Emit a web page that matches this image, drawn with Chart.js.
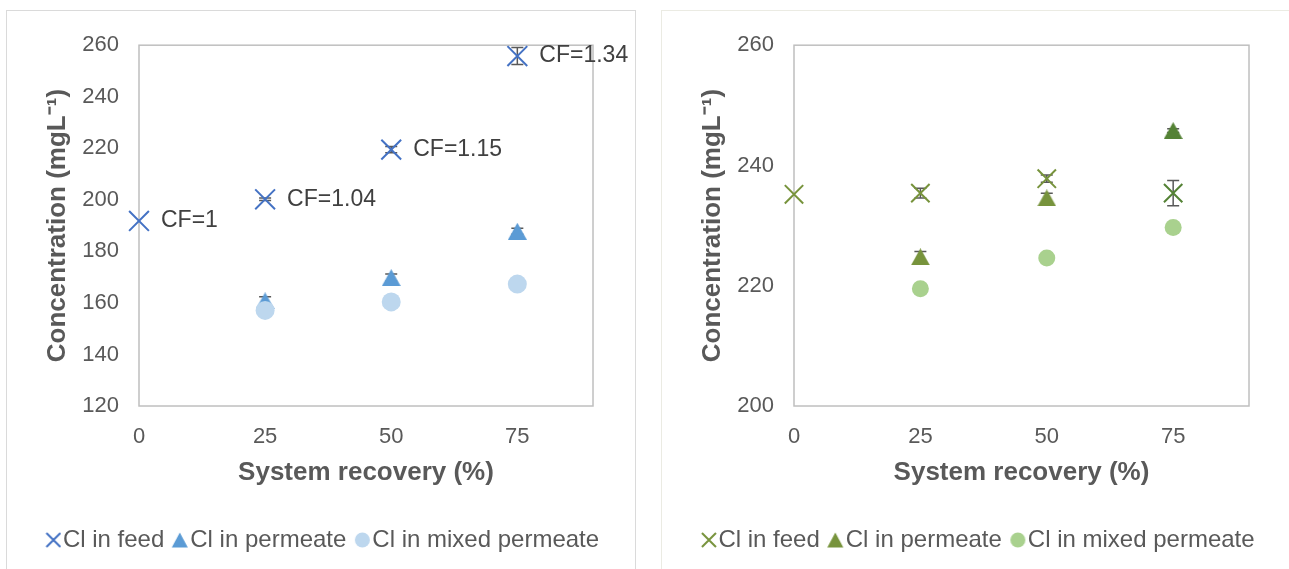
<!DOCTYPE html>
<html>
<head>
<meta charset="utf-8">
<script src="https://cdn.jsdelivr.net/npm/chart.js@4/dist/chart.umd.min.js"></script>
<style>
  html, body { margin: 0; padding: 0; background: #ffffff; }
  body { width: 1289px; height: 569px; position: relative; overflow: hidden; }
  .panel { position: absolute; box-sizing: border-box; }
  #panelLeft { left: 6px; top: 10px; width: 630px; height: 580px; border: 1.5px solid #dadada; }
  #panelRight { left: 661px; top: 10px; width: 640px; height: 580px; border: 1.5px solid #ebebe3; }
  canvas { position: absolute; }
  #chartLeft { left: 8px; top: 12px; }
  #chartRight { left: 663px; top: 12px; }
</style>
</head>
<body>
<div class="panel" id="panelLeft"></div>
<div class="panel" id="panelRight"></div>
<canvas id="chartLeft" width="625" height="557"></canvas>
<canvas id="chartRight" width="626" height="557"></canvas>
<script>
// System recovery (%) at which each sample was taken
const recoveryFeed = [0, 25, 50, 75];
const recoveryPermeate = [25, 50, 75];
const xTickValues = [0, 25, 50, 75];

// Left panel: Cl concentrations (mg/L)
const leftFeed = [191.8, 200.2, 219.5, 255.8];
const leftFeedErr = [0, 0.5, 1.2, 3.3];
const leftPermeate = [160.8, 169.8, 187.8];
const leftPermeateErr = [1.6, 1.4, 1.2];
const leftMixed = [157.1, 160.4, 167.3];
const leftMixedErr = [0.4, 0.2, 0.2];
const cfLabels = ['CF=1', 'CF=1.04', 'CF=1.15', 'CF=1.34'];
const leftYTicks = { min: 120, max: 260, step: 20 };

// Right panel: Cl concentrations (mg/L)
const rightFeed = [235.2, 235.4, 237.8, 235.4];
const rightFeedErr = [0, 0.8, 0.6, 2.1];
const rightPermeate = [224.8, 234.6, 245.8];
const rightPermeateErr = [0.9, 0.8, 0.3];
const rightMixed = [219.5, 224.6, 229.7];
const rightMixedErr = [0.2, 0.1, 0.1];
const rightYTicks = { min: 200, max: 260, step: 20 };

const seriesNames = ['Cl in feed', 'Cl in permeate', 'Cl in mixed permeate'];

const FONT = '"Liberation Sans", Arial, Helvetica, sans-serif';
const TEXT = '#595959';

function toPoints(xs, ys) { return ys.map((y, i) => ({ x: xs[i], y })); }

// Triangle marker, centred on its bounding box
function triangleImage(color, w, h) {
  const c = document.createElement('canvas');
  c.width = w; c.height = h;
  const g = c.getContext('2d');
  g.fillStyle = color;
  g.beginPath();
  g.moveTo(w / 2, 0); g.lineTo(w, h); g.lineTo(0, h); g.closePath();
  g.fill();
  return c;
}

// Legend icons sit close to their text: the glyph is drawn at the right of a wider image
function legendIcon(kind, color) {
  const W = 22, H = 18;
  const c = document.createElement('canvas');
  c.width = W; c.height = H;
  const g = c.getContext('2d');
  const right = 21, cy = H / 2;
  if (kind === 'x') {
    const s = 14, l = right - s;
    g.strokeStyle = color; g.lineWidth = 2;
    g.beginPath();
    g.moveTo(l, cy - s / 2); g.lineTo(right, cy + s / 2);
    g.moveTo(l, cy + s / 2); g.lineTo(right, cy - s / 2);
    g.stroke();
  } else if (kind === 'tri') {
    const w = 16, h = 15, l = right - w;
    g.fillStyle = color;
    g.beginPath();
    g.moveTo(l + w / 2, cy - h / 2); g.lineTo(right, cy + h / 2); g.lineTo(l, cy + h / 2); g.closePath();
    g.fill();
  } else {
    const r = 7.5;
    g.fillStyle = color;
    g.beginPath(); g.arc(right - r, cy, r, 0, Math.PI * 2); g.fill();
  }
  return c;
}

// Plot-area frame
const frame = {
  id: 'frame',
  beforeDatasetsDraw(chart) {
    const { ctx, chartArea: a } = chart;
    ctx.save();
    ctx.strokeStyle = '#BFBFBF';
    ctx.lineWidth = 1.5;
    ctx.strokeRect(a.left, a.top, a.right - a.left, a.bottom - a.top);
    ctx.restore();
  }
};

// Vertical error bars with caps, drawn just beneath their own series' markers
const errorBars = {
  id: 'errorBars',
  beforeDatasetDraw(chart, args) {
    const ds = chart.data.datasets[args.index];
    if (!ds.errorBars) return;
    const { ctx } = chart;
    const xs = chart.scales.x, ys = chart.scales.y;
    ctx.save();
    ctx.strokeStyle = '#595959';
    ctx.lineWidth = 1.5;
    ds.data.forEach((p, i) => {
      const e = ds.errorBars[i];
      if (!e) return;
      const px = xs.getPixelForValue(p.x);
      const top = ys.getPixelForValue(p.y + e);
      const bot = ys.getPixelForValue(p.y - e);
      ctx.beginPath();
      ctx.moveTo(px, top); ctx.lineTo(px, bot);
      ctx.moveTo(px - 6, top); ctx.lineTo(px + 6, top);
      ctx.moveTo(px - 6, bot); ctx.lineTo(px + 6, bot);
      ctx.stroke();
    });
    ctx.restore();
  }
};

// Concentration-factor labels next to the feed points
const pointLabels = {
  id: 'pointLabels',
  afterDatasetsDraw(chart) {
    const { ctx } = chart;
    const xs = chart.scales.x, ys = chart.scales.y;
    chart.data.datasets.forEach(ds => {
      if (!ds.pointLabels) return;
      ctx.save();
      ctx.font = '23px ' + FONT;
      ctx.fillStyle = '#404040';
      ctx.textAlign = 'left';
      ctx.textBaseline = 'middle';
      ds.data.forEach((p, i) => {
        ctx.fillText(ds.pointLabels[i], xs.getPixelForValue(p.x) + 22, ys.getPixelForValue(p.y));
      });
      ctx.restore();
    });
  }
};

function makeChart(id, cfg) {
  const datasets = [
    {
      label: seriesNames[0],
      data: toPoints(recoveryFeed, cfg.feed),
      errorBars: cfg.feedErr,
      pointLabels: cfg.labels || null,
      pointStyle: 'crossRot',
      pointRadius: cfg.xRadius,
      pointBorderWidth: 2,
      borderColor: cfg.feedColors,
      backgroundColor: cfg.feedColors,
      showLine: false,
      clip: false,
      order: 2
    },
    {
      label: seriesNames[1],
      data: toPoints(recoveryPermeate, cfg.permeate),
      errorBars: cfg.permeateErr,
      pointStyle: cfg.permeateColors.map(c => triangleImage(c, 19, 17)),
      showLine: false,
      clip: false,
      order: 1
    },
    {
      label: seriesNames[2],
      data: toPoints(recoveryPermeate, cfg.mixed),
      errorBars: cfg.mixedErr,
      pointStyle: 'circle',
      pointRadius: cfg.circleRadius,
      pointBorderWidth: 0,
      borderColor: cfg.mixedColor,
      backgroundColor: cfg.mixedColor,
      showLine: false,
      clip: false,
      order: 0
    }
  ];

  const icons = [
    legendIcon('x', cfg.legendColors[0]),
    legendIcon('tri', cfg.legendColors[1]),
    legendIcon('circle', cfg.legendColors[2])
  ];

  return new Chart(document.getElementById(id), {
    type: 'scatter',
    data: { datasets },
    plugins: [frame, errorBars, pointLabels],
    options: {
      responsive: false,
      animation: false,
      devicePixelRatio: 1,
      layout: { padding: { top: 28, right: 0, left: 8, bottom: 7 } },
      plugins: {
        tooltip: { enabled: false },
        legend: {
          position: 'bottom',
          labels: {
            usePointStyle: true,
            boxWidth: 1,
            boxHeight: 1,
            padding: 13,
            color: TEXT,
            font: { family: FONT, size: 24 },
            generateLabels: () => seriesNames.map((name, i) => ({
              text: name,
              pointStyle: icons[i],
              fillStyle: 'transparent',
              strokeStyle: 'transparent',
              lineWidth: 0,
              fontColor: TEXT,
              hidden: false,
              datasetIndex: i
            }))
          }
        }
      },
      scales: {
        x: {
          type: 'linear',
          min: 0,
          max: 90,
          grid: { display: false, drawTicks: false },
          border: { display: false },
          afterBuildTicks: s => { s.ticks = xTickValues.map(v => ({ value: v })); },
          afterFit: s => { s.height = 109; },
          ticks: { padding: 18, color: TEXT, font: { family: FONT, size: 22 } },
          title: {
            display: true,
            text: 'System recovery (%)',
            color: TEXT,
            font: { family: FONT, size: 26, weight: 'bold' },
            padding: { top: 0, bottom: 27 }
          }
        },
        y: {
          type: 'linear',
          min: cfg.yTicks.min,
          max: cfg.yTicks.max,
          grid: { display: false, drawTicks: false },
          border: { display: false },
          afterFit: s => { s.width = 123; },
          ticks: { stepSize: cfg.yTicks.step, padding: 20, color: TEXT, font: { family: FONT, size: 22 } },
          title: {
            display: true,
            text: 'Concentration (mgL\u207B\u00B9)',
            color: TEXT,
            font: { family: FONT, size: 26, weight: 'bold' },
            padding: { top: 26, bottom: 0 }
          }
        },
        // blank right-hand margin beside the plot area
        margin: {
          type: 'linear',
          position: 'right',
          grid: { display: false, drawTicks: false },
          border: { display: false },
          ticks: { display: false },
          afterFit: s => { s.width = 40; }
        }
      }
    }
  });
}

makeChart('chartLeft', {
  feed: leftFeed, feedErr: leftFeedErr,
  permeate: leftPermeate, permeateErr: leftPermeateErr,
  mixed: leftMixed, mixedErr: leftMixedErr,
  labels: cfLabels,
  yTicks: leftYTicks,
  xRadius: 14,
  circleRadius: 9.5,
  feedColors: '#4472C4',
  permeateColors: ['#5B9BD5', '#5B9BD5', '#5B9BD5'],
  mixedColor: '#BDD7EE',
  legendColors: ['#4472C4', '#5B9BD5', '#BDD7EE']
});

makeChart('chartRight', {
  feed: rightFeed, feedErr: rightFeedErr,
  permeate: rightPermeate, permeateErr: rightPermeateErr,
  mixed: rightMixed, mixedErr: rightMixedErr,
  labels: null,
  yTicks: rightYTicks,
  xRadius: 13,
  circleRadius: 8.5,
  feedColors: ['#77933C', '#77933C', '#77933C', '#548235'],
  permeateColors: ['#77933C', '#77933C', '#548235'],
  mixedColor: '#A9D18E',
  legendColors: ['#77933C', '#77933C', '#A9D18E']
});
</script>
</body>
</html>
